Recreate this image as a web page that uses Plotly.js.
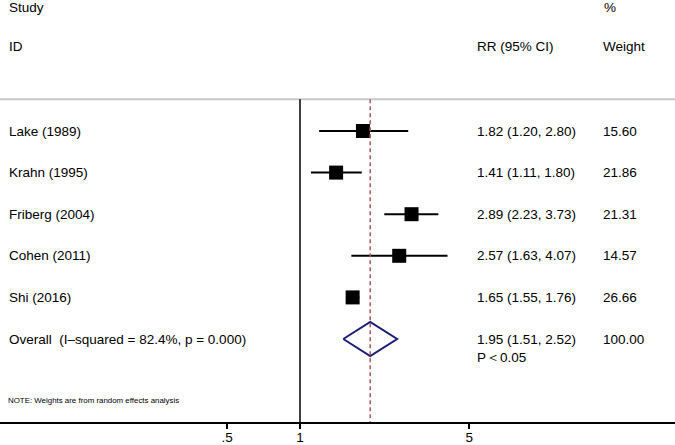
<!DOCTYPE html>
<html>
<head>
<meta charset="utf-8">
<script src="https://cdn.plot.ly/plotly-3.0.1.min.js"></script>
<style>html,body{margin:0;padding:0;background:#fff;}#chart{width:675px;height:445px;}</style>
</head>
<body>
<div id="chart"></div>
<script>
const studies = ["Lake (1989)", "Krahn (1995)", "Friberg (2004)", "Cohen (2011)", "Shi (2016)"];
const rr = [1.82, 1.41, 2.89, 2.57, 1.65];
const lower = [1.20, 1.11, 2.23, 1.63, 1.55];
const upper = [2.80, 1.80, 3.73, 4.07, 1.76];
const weights = ["15.60", "21.86", "21.31", "14.57", "26.66"];
const overallLabel = "Overall  (I\u2013squared = 82.4%, p = 0.000)";
const overallRR = 1.95, overallLo = 1.51, overallHi = 2.52;
const overallWeight = "100.00";
const overallP = "P\uFF1C0.05";
const tickVals = [0.5, 1, 5];
const tickText = [".5", "1", "5"];
const note = "NOTE: Weights are from random effects analysis";

const fmt = v => v.toFixed(2);
const rows = studies.map((s, i) => i + 1);
const overallRow = studies.length + 1;
const FONT = "Liberation Sans, Arial, Helvetica, sans-serif";
const fs = 13.5;

const traces = [
  {
    type: "scatter", mode: "markers",
    x: rr, y: rows,
    marker: {symbol: "square", size: 14, color: "#000"},
    error_x: {
      type: "data", symmetric: false,
      array: rr.map((v, i) => upper[i] - v),
      arrayminus: rr.map((v, i) => v - lower[i]),
      width: 0, thickness: 2, color: "#000"
    },
    hoverinfo: "skip", showlegend: false
  },
  {
    type: "scatter", mode: "lines",
    x: [overallLo, overallRR, overallHi, overallRR, overallLo],
    y: [overallRow, overallRow - 0.41, overallRow, overallRow + 0.41, overallRow],
    line: {color: "#1b1d78", width: 2},
    hoverinfo: "skip", showlegend: false
  }
];

const ann = [];
function txt(x, y, t, size) {
  ann.push({xref: "paper", yref: "y", x: x, y: y, text: t, showarrow: false,
    xanchor: "left", yanchor: "middle", font: {family: FONT, size: size || fs, color: "#000"}});
}
txt(0.0105, -1.98, "Study");
txt(0.0105, -1.02, "ID");
txt(0.704, -1.02, "RR (95% CI)");
txt(0.892, -1.98, "%");
txt(0.891, -1.02, "Weight");
studies.forEach((s, i) => {
  txt(0.0105, rows[i], s);
  txt(0.704, rows[i], fmt(rr[i]) + " (" + fmt(lower[i]) + ", " + fmt(upper[i]) + ")");
  txt(0.891, rows[i], weights[i]);
});
txt(0.0105, overallRow, overallLabel);
txt(0.704, overallRow, fmt(overallRR) + " (" + fmt(overallLo) + ", " + fmt(overallHi) + ")");
txt(0.704, overallRow + 0.45, overallP);
txt(0.891, overallRow, overallWeight);
txt(0.0095, 7.49, note, 7.9);

const yTopLine = 0.238;
const layout = {
  width: 675, height: 445,
  margin: {l: 0, r: 0, t: 0, b: 23},
  paper_bgcolor: "#fff", plot_bgcolor: "#fff",
  xaxis: {
    type: "log", range: [-1.2397, 1.5496],
    tickvals: tickVals, ticktext: tickText,
    ticks: "outside", ticklen: 5, tickwidth: 1.5, tickcolor: "#000",
    ticklabelstandoff: -3,
    showline: true, linecolor: "#000", linewidth: 1.5,
    showgrid: false, zeroline: false,
    tickfont: {family: FONT, size: fs, color: "#000"}
  },
  yaxis: {range: [7.995, -2.149], visible: false, showgrid: false, zeroline: false},
  shapes: [
    {type: "line", xref: "paper", yref: "y", x0: 0, x1: 1, y0: yTopLine, y1: yTopLine,
      line: {color: "#c8c8c8", width: 2}},
    {type: "line", xref: "x", yref: "y", x0: 1, x1: 1, y0: yTopLine, y1: 7.995,
      line: {color: "#000", width: 1.5}},
    {type: "line", xref: "x", yref: "y", x0: overallRR, x1: overallRR, y0: yTopLine, y1: 7.995,
      line: {color: "#a85a5a", width: 1.5, dash: "4px,3px"}}
  ],
  annotations: ann,
  showlegend: false
};

Plotly.newPlot("chart", traces, layout, {displayModeBar: false, staticPlot: true});
</script>
</body>
</html>
